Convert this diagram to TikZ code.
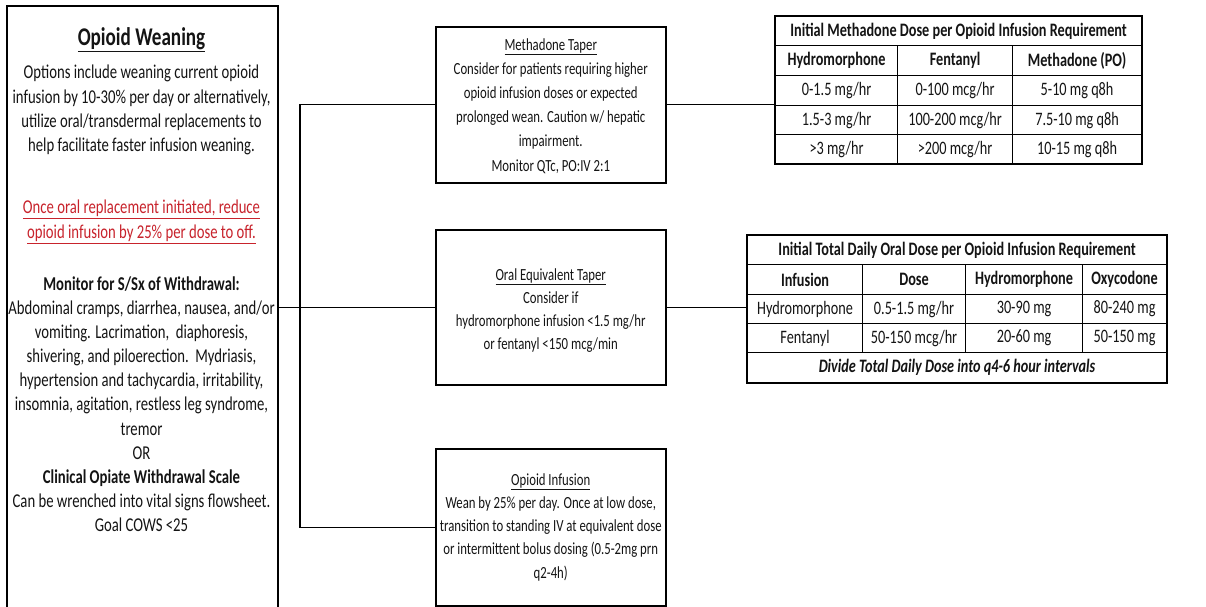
\documentclass[tikz,border=0pt]{standalone}
\usepackage{fontspec}
\setmainfont{Carlito}[FakeStretch=0.75]
\definecolor{ink}{HTML}{141414}
\definecolor{redtxt}{HTML}{C8232C}
\begin{document}
\begin{tikzpicture}[x=1pt,y=-1pt,
  box/.style={draw=black, line width=1.5pt, rectangle, inner sep=0pt},
  txt/.style={align=center, inner sep=0pt, text=ink},
  conn/.style={draw=black, line width=1.4pt},
  cell/.style={draw=black, line width=1.1pt, rectangle, inner sep=0pt, text=ink, anchor=north west, font=\fontsize{19}{22}\selectfont},
  hcell/.style={cell, font=\bfseries\fontsize{19}{22}\selectfont},
  outer/.style={draw=black, line width=2pt}]
\useasboundingbox (0,0) rectangle (1206,606);
\clip (0,0) rectangle (1206,606);
\fill[white] (0,0) rectangle (1206,606);

% left box
\node[box, anchor=north west, minimum width=271pt, minimum height=700pt] (L) at (6,5) {};
\node[txt, anchor=north, font=\bfseries\fontsize{25.5}{30}\selectfont] (Ltitle) at (141.5,27) {\underline{Opioid Weaning}};
\node[txt, anchor=north, font=\fontsize{19.6}{24.2}\selectfont] (Lp1) at (141.5,65) {Options include weaning current opioid\\infusion by 10-30\% per day or alternatively,\\utilize oral/transdermal replacements to\\help facilitate faster infusion weaning.};
\node[txt, anchor=north, text=redtxt, font=\fontsize{19.6}{25}\selectfont] (Lp2) at (141.5,200) {\underline{Once oral replacement initiated, reduce}\\\underline{opioid infusion by 25\% per dose to off.}};
\node[txt, anchor=north, font=\fontsize{19.6}{24.1}\selectfont] (Lp3) at (141.5,276.5) {\textbf{Monitor for S/Sx of Withdrawal:}\\Abdominal cramps, diarrhea, nausea, and/or\\vomiting. Lacrimation,\ \ diaphoresis,\\shivering, and piloerection.\ \ Mydriasis,\\hypertension and tachycardia, irritability,\\insomnia, agitation, restless leg syndrome,\\tremor\\OR\\\textbf{Clinical Opiate Withdrawal Scale}\\Can be wrenched into vital signs flowsheet.\\Goal COWS <25};

% middle boxes
\node[box, anchor=north west, minimum width=230pt, minimum height=156pt] (meth) at (435,26) {};
\node[txt, anchor=north, font=\fontsize{17}{24.2}\selectfont] (methtxt) at (meth.north |- 0,38) {\underline{Methadone Taper}\\Consider for patients requiring higher\\opioid infusion doses or expected\\prolonged wean. Caution w/ hepatic\\impairment.\\Monitor QTc, PO:IV 2:1};

\node[box, anchor=north west, minimum width=230pt, minimum height=155pt] (oral) at (435,229) {};
\node[txt, anchor=north, font=\fontsize{17}{23.3}\selectfont] (oraltxt) at (oral.north |- 0,268) {\underline{Oral Equivalent Taper}\\Consider if\\hydromorphone infusion <1.5 mg/hr\\or fentanyl <150 mcg/min};

\node[box, anchor=north west, minimum width=230pt, minimum height=157pt] (inf) at (435,448) {};
\node[txt, anchor=north, font=\fontsize{17}{23.3}\selectfont] (inftxt) at (inf.north |- 0,473) {\underline{Opioid Infusion}\\Wean by 25\% per day. Once at low dose,\\transition to standing IV at equivalent dose\\or intermittent bolus dosing (0.5-2mg prn\\q2-4h)};

% connectors
\coordinate (j) at (300,0);
\draw[conn] (oral.west) -- (oral.west -| L.east);
\draw[conn] (meth.west) -- (meth.west -| j) -- (inf.west -| j) -- (inf.west);

% table 1
\node[hcell, minimum width=366pt, minimum height=29pt] (t1h) at (775,16) {Initial Methadone Dose per Opioid Infusion Requirement};
\node[hcell, minimum width=122pt, minimum height=30pt] (t1a0) at (775,45) {Hydromorphone};
\node[hcell, minimum width=115pt, minimum height=30pt] (t1b0) at (897,45) {Fentanyl};
\node[hcell, minimum width=129pt, minimum height=30pt] (t1c0) at (1012,45) {Methadone (PO)};
\node[cell, minimum width=122pt, minimum height=30pt] (t1a1) at (775,75) {0-1.5 mg/hr};
\node[cell, minimum width=115pt, minimum height=30pt] (t1b1) at (897,75) {0-100 mcg/hr};
\node[cell, minimum width=129pt, minimum height=30pt] (t1c1) at (1012,75) {5-10 mg q8h};
\node[cell, minimum width=122pt, minimum height=29pt] (t1a2) at (775,105) {1.5-3 mg/hr};
\node[cell, minimum width=115pt, minimum height=29pt] (t1b2) at (897,105) {100-200 mcg/hr};
\node[cell, minimum width=129pt, minimum height=29pt] (t1c2) at (1012,105) {7.5-10 mg q8h};
\node[cell, minimum width=122pt, minimum height=29pt] (t1a3) at (775,134) {>3 mg/hr};
\node[cell, minimum width=115pt, minimum height=29pt] (t1b3) at (897,134) {>200 mcg/hr};
\node[cell, minimum width=129pt, minimum height=29pt] (t1c3) at (1012,134) {10-15 mg q8h};
\draw[outer] (t1h.north west) rectangle (t1c3.south east);
\draw[conn] (meth.east) -- (meth.east -| t1a1.west);

% table 2
\node[hcell, minimum width=419pt, minimum height=29pt] (t2h) at (747,235) {Initial Total Daily Oral Dose per Opioid Infusion Requirement};
\node[hcell, minimum width=115pt, minimum height=30pt] (t2a0) at (747,264) {Infusion};
\node[hcell, minimum width=103pt, minimum height=30pt] (t2b0) at (862,264) {Dose};
\node[hcell, minimum width=117pt, minimum height=30pt] (t2c0) at (965,264) {Hydromorphone};
\node[hcell, minimum width=84pt, minimum height=30pt] (t2d0) at (1082,264) {Oxycodone};
\node[cell, minimum width=115pt, minimum height=29pt] (t2a1) at (747,294) {Hydromorphone};
\node[cell, minimum width=103pt, minimum height=29pt] (t2b1) at (862,294) {0.5-1.5 mg/hr};
\node[cell, minimum width=117pt, minimum height=29pt] (t2c1) at (965,294) {30-90 mg};
\node[cell, minimum width=84pt, minimum height=29pt] (t2d1) at (1082,294) {80-240 mg};
\node[cell, minimum width=115pt, minimum height=29pt] (t2a2) at (747,323) {Fentanyl};
\node[cell, minimum width=103pt, minimum height=29pt] (t2b2) at (862,323) {50-150 mcg/hr};
\node[cell, minimum width=117pt, minimum height=29pt] (t2c2) at (965,323) {20-60 mg};
\node[cell, minimum width=84pt, minimum height=29pt] (t2d2) at (1082,323) {50-150 mg};
\node[cell, minimum width=419pt, minimum height=30pt, font=\bfseries\itshape\fontsize{19}{22}\selectfont] (t2f) at (747,352) {Divide Total Daily Dose into q4-6 hour intervals};
\draw[outer] (t2h.north west) rectangle (t2f.south east);
\draw[conn] (oral.east) -- (oral.east -| t2a1.west);
\end{tikzpicture}
\end{document}
